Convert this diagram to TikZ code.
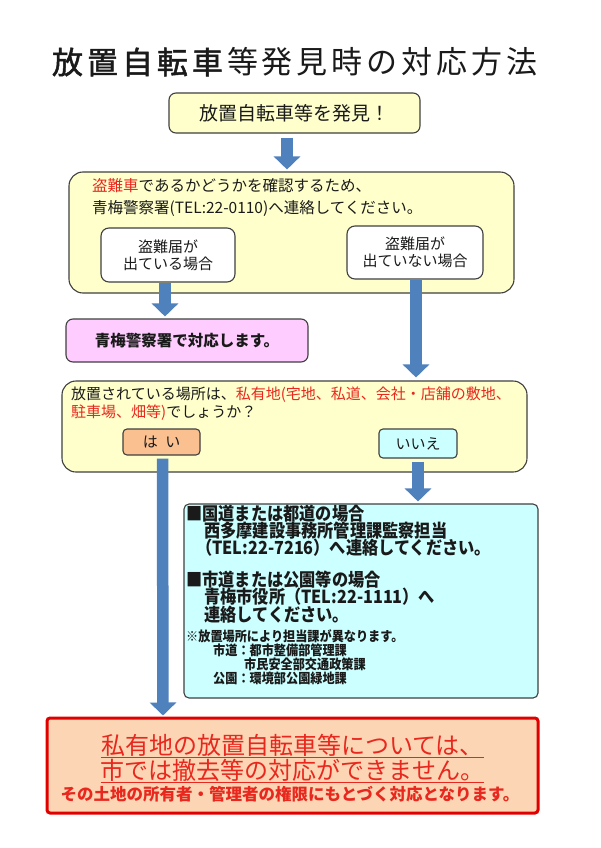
\documentclass[tikz,border=0pt]{standalone}
\usepackage{fontspec}
\newfontfamily\jp{Noto Sans CJK JP}
\newfontfamily\jpm{Noto Sans CJK JP}[FakeBold=1.6]
\newfontfamily\jpc{Noto Sans CJK JP}[FakeStretch=0.9]
\usetikzlibrary{arrows.meta}
\definecolor{boxyellow}{HTML}{FFFFCC}
\definecolor{edge}{HTML}{404040}
\definecolor{arrowblue}{HTML}{4F81BD}
\definecolor{pinkfill}{HTML}{FFCCFF}
\definecolor{orangefill}{HTML}{FAC090}
\definecolor{cyanfill}{HTML}{CCFFFF}
\definecolor{peach}{HTML}{FCD5B4}
\definecolor{txtred}{HTML}{E8281E}
\definecolor{boxred}{HTML}{E00000}
\definecolor{txt}{HTML}{1A1A1A}
\newcommand\tk{\kern4pt}
\begin{document}
\begin{tikzpicture}[x=1pt,y=-1pt,
  panel/.style={draw=edge, line width=1.1pt, rounded corners=#1, inner sep=0pt, text=txt},
  panel/.default=8pt,
  tx/.style={inner sep=0pt, text=txt},
  barrow/.style={draw=arrowblue, line width=11.5pt, -{Triangle[length=13pt,width=26pt]}},
  f15/.style={font=\jp\fontsize{15}{18}\selectfont},
  fc/.style={font=\jpc\bfseries\fontsize{18}{20}\selectfont},
  fcs/.style={font=\jpc\bfseries\fontsize{13.5}{15}\selectfont}
]
\fill[white] (0,0) rectangle (600,848);
\useasboundingbox (0,0) rectangle (600,848);

% title
\node[tx, font=\jp\fontsize{31}{36}\selectfont] (title) at (295,62)
  {{\jpm 放\tk 置\tk 自\tk 転\tk 車}\tk 等\tk 発\tk 見\tk 時\tk の\tk 対\tk 応\tk 方\tk 法};

% box 1
\node[panel=7pt, fill=boxyellow, minimum width=251pt, minimum height=40pt,
      font=\jp\fontsize{19}{22}\selectfont] (box1) at (294.5,113) {放置自転車等を発見！};

% box 2
\node[panel=14pt, fill=boxyellow, minimum width=445pt, minimum height=121pt] (box2) at (291.5,232.5) {};
\node[tx, anchor=west, font=\jp\fontsize{15.5}{18}\selectfont] (t2a) at (92,186) {\textcolor{txtred}{盗難車}であるかどうかを確認するため、};
\node[tx, anchor=west, font=\jp\fontsize{15.5}{18}\selectfont] (t2b) at (92,208) {青梅警察署(TEL:22-0110)へ連絡してください。};
\node[panel=8pt, fill=white, minimum width=134pt, minimum height=54pt, align=center,
      font=\jp\fontsize{15}{17}\selectfont] (lsub) at (168,255) {盗難届が\\出ている場合};
\node[panel=8pt, fill=white, minimum width=136pt, minimum height=53pt, align=center,
      font=\jp\fontsize{15}{17}\selectfont] (rsub) at (415,252.5) {盗難届が\\出ていない場合};

% pink
\node[panel=7pt, fill=pinkfill, minimum width=242pt, minimum height=43pt,
      font=\jp\bfseries\fontsize{15.5}{18}\selectfont] (pink) at (187,340.5) {青梅警察署で対応します。};

% box 3
\node[panel=14pt, fill=boxyellow, minimum width=465pt, minimum height=91pt] (box3) at (294.5,426.5) {};
\node[tx, anchor=west, f15] (t3a) at (71,395)
  {放置されている場所は、\textcolor{txtred}{私有地(宅地、私道、会社・店舗の敷地、}};
\node[tx, anchor=west, f15] (t3b) at (71,413)
  {\textcolor{txtred}{駐車場、畑等)}でしょうか？};
\node[panel=4pt, fill=orangefill, minimum width=77pt, minimum height=26pt,
      font=\jp\fontsize{15}{17}\selectfont] (hai) at (161.5,442) {は\hspace{0.5em}い};
\node[panel=4pt, fill=cyanfill, minimum width=78pt, minimum height=29pt,
      font=\jp\fontsize{15}{17}\selectfont] (iie) at (418,443.5) {いいえ};

% cyan box
\node[panel=5pt, fill=cyanfill, minimum width=354pt, minimum height=194pt] (cyan) at (361,601) {};
\node[tx, anchor=west, fc] (c1) at (186,514) {■国道または都道の場合};
\node[tx, anchor=west, fc] (c2) at (204,531) {西多摩建設事務所管理課監察担当};
\node[tx, anchor=west, fc] (c3) at (196,548) {（TEL:22-7216）へ連絡してください。};
\node[tx, anchor=west, fc] (c4) at (186,580) {■市道または公園等の場合};
\node[tx, anchor=west, fc] (c5) at (204,597) {青梅市役所（TEL:22-1111）へ};
\node[tx, anchor=west, fc] (c6) at (204,615) {連絡してください。};
\node[tx, anchor=west, fcs] (c7) at (186,636) {※放置場所により担当課が異なります。};
\node[tx, anchor=west, fcs] (c8) at (213,650) {市道：都市整備部管理課};
\node[tx, anchor=west, fcs] (c9) at (244,664) {市民安全部交通政策課};
\node[tx, anchor=west, fcs] (c10) at (213,678) {公園：環境部公園緑地課};

% red box
\node[draw=boxred, line width=3pt, fill=peach, rounded corners=3pt,
      minimum width=491pt, minimum height=95pt, inner sep=0pt] (redbox) at (292.5,765.5) {};
\node[inner sep=0pt, text=txtred, font=\jp\fontsize{24}{26}\selectfont] (r1) at (292.5,745) {私有地の放置自転車等については、};
\node[inner sep=0pt, text=txtred, font=\jp\fontsize{24}{26}\selectfont] (r2) at (292.5,770) {市では撤去等の対応ができません。};
\node[inner sep=0pt, text=txtred, font=\jp\bfseries\fontsize{16.5}{18}\selectfont] (r3) at (290,794) {その土地の所有者・管理者の権限にもとづく対応となります。};
\draw[txtred, line width=1.2pt] ([yshift=-3pt]r1.base west) -- ([yshift=-3pt]r1.base east);
\draw[txtred, line width=1.2pt] ([yshift=-3pt]r2.base west) -- ([yshift=-3pt]r2.base east);

% arrows
\draw[barrow] ([xshift=-7.5pt,yshift=-4pt]box1.south) -- ([xshift=-4.5pt,yshift=2pt]box2.north);
\draw[barrow] ([xshift=-3pt]lsub.south) -- ([xshift=-22pt,yshift=2pt]pink.north);
\draw[barrow] ([xshift=1pt]rsub.south) -- ([xshift=121.5pt,yshift=3pt]box3.north);
\draw[barrow] ([xshift=1pt,yshift=-3pt]hai.south) -- ([xshift=-129.5pt,yshift=1pt]redbox.north);
\draw[barrow] ([yshift=-3pt]iie.south) -- ([xshift=57pt,yshift=2pt]cyan.north);
\end{tikzpicture}
\end{document}
